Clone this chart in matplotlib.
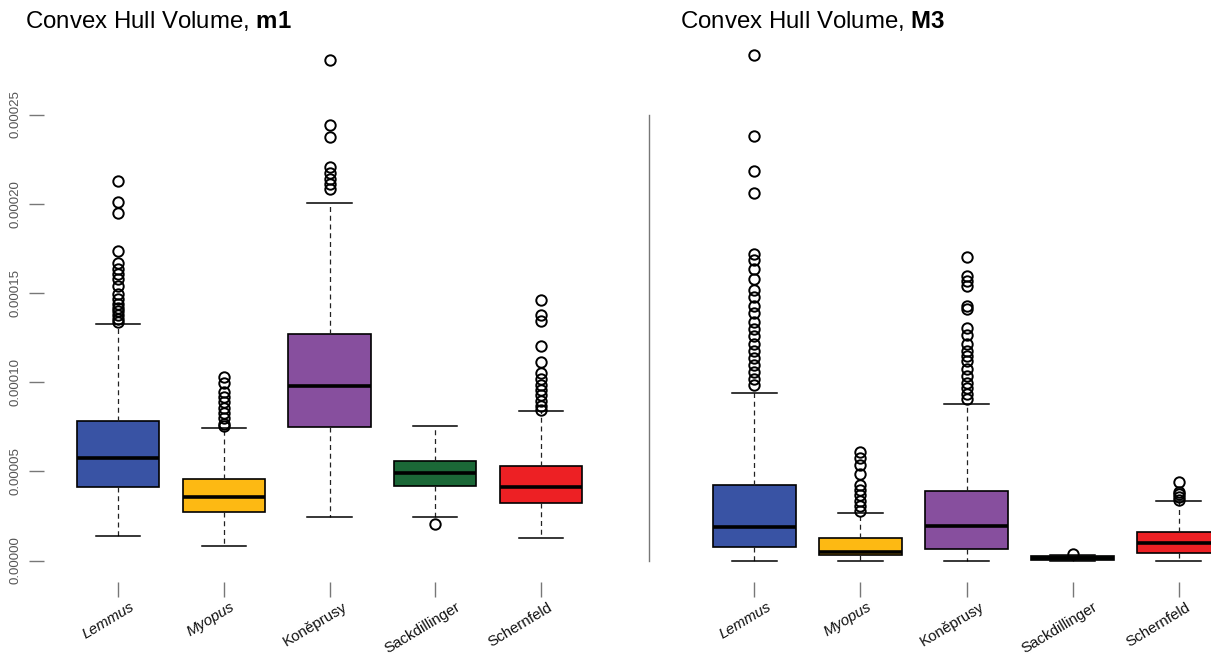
import numpy as np
import matplotlib
matplotlib.use("Agg")
import matplotlib.pyplot as plt
from matplotlib.transforms import ScaledTranslation

plt.rcParams['font.family'] = ['Liberation Sans', 'DejaVu Sans']
plt.rcParams['mathtext.fontset'] = 'custom'
plt.rcParams['mathtext.rm'] = 'Liberation Sans'
plt.rcParams['mathtext.bf'] = 'Liberation Sans:bold'

groups = ['Lemmus', 'Myopus', 'Koněprusy', 'Sackdillinger', 'Schernfeld']
italic_groups = ['Lemmus', 'Myopus']
colors = ['#3953a4', '#fdb913', '#874f9e', '#1b6837', '#ed2024']
yticks = [0.0, 0.00005, 0.0001, 0.00015, 0.0002, 0.00025]

# m1
m1_whislo = [0.0000136, 0.0000080, 0.0000246, 0.0000246, 0.0000126]
m1_q1 = [0.0000410, 0.0000272, 0.0000746, 0.0000420, 0.0000320]
m1_med = [0.0000572, 0.0000354, 0.0000976, 0.0000490, 0.0000412]
m1_q3 = [0.0000780, 0.0000456, 0.0001272, 0.0000556, 0.0000532]
m1_whishi = [0.0001324, 0.0000742, 0.0002006, 0.0000752, 0.0000840]
m1_fliers = [
    [0.0002126, 0.000201, 0.0001946, 0.0001736, 0.0001666, 0.0001636, 0.0001606,
     0.0001576, 0.0001536, 0.0001496, 0.0001466, 0.0001436, 0.0001416, 0.0001396,
     0.0001376, 0.0001356, 0.0001336],
    [0.0001026, 0.0000996, 0.0000946, 0.0000916, 0.0000886, 0.0000856, 0.0000826,
     0.0000796, 0.0000766, 0.0000752],
    [0.0002806, 0.0002442, 0.0002376, 0.0002206, 0.0002172, 0.000214, 0.0002112,
     0.000208],
    [0.0000206],
    [0.000146, 0.0001376, 0.000134, 0.00012, 0.000111, 0.000105, 0.0001016,
     0.0000986, 0.0000956, 0.0000926, 0.0000896, 0.0000866, 0.0000846],
]

# M3
M3_whislo = [0.0, 0.0, 0.0, 0.0, 0.0]
M3_q1 = [0.0000076, 0.0000030, 0.0000066, 0.0000003, 0.0000040]
M3_med = [0.0000186, 0.0000050, 0.0000196, 0.0000012, 0.0000096]
M3_q3 = [0.0000426, 0.0000126, 0.0000392, 0.0000028, 0.0000160]
M3_whishi = [0.0000940, 0.0000266, 0.0000876, 0.0000030, 0.0000336]
M3_fliers = [
    [0.0002836, 0.000238, 0.0002186, 0.0002062, 0.0001716, 0.0001686, 0.0001636,
     0.0001576, 0.0001516, 0.0001476, 0.0001426, 0.0001386, 0.0001336, 0.0001296,
     0.0001256, 0.0001216, 0.0001176, 0.0001136, 0.0001096, 0.0001056, 0.0001016,
     0.0000986],
    [0.0000606, 0.0000576, 0.0000536, 0.0000486, 0.0000426, 0.0000396, 0.0000366,
     0.0000336, 0.0000306, 0.000028],
    [0.00017, 0.0001596, 0.0001566, 0.0001536, 0.0001426, 0.0001412, 0.0001306,
     0.0001266, 0.0001216, 0.0001172, 0.0001146, 0.0001116, 0.0001076, 0.0001036,
     0.0000996, 0.0000966, 0.0000936, 0.0000906],
    [0.0000036],
    [0.000044, 0.0000386, 0.0000372, 0.0000356, 0.000034],
]

W, H = 1211, 658
fig = plt.figure(figsize=(W / 100, H / 100), dpi=100)

top_px, bot_px = 40, 582
zero_px, px_per = 560.5, 89.2 / 0.00005
ylim = ((zero_px - bot_px) / px_per, (zero_px - top_px) / px_per)
# how far right of its tick each rotated label ends, in pixels
label_shift = [12, 6, 13, 20, 7]


def px_axes(x0, x1):
    return fig.add_axes([x0 / W, 1 - bot_px / H, (x1 - x0) / W, (bot_px - top_px) / H])


def draw(ax, whislo, q1, med, q3, whishi, fliers):
    stats = []
    for i in range(len(groups)):
        stats.append(dict(whislo=whislo[i], q1=q1[i], med=med[i], q3=q3[i],
                          whishi=whishi[i], fliers=np.array(fliers[i])))
    bp = ax.bxp(stats, positions=range(1, 6), widths=0.78, capwidths=0.42,
                patch_artist=True, manage_ticks=False,
                boxprops=dict(edgecolor='black', linewidth=1.2),
                medianprops=dict(color='black', linewidth=2.6),
                whiskerprops=dict(color='#222222', linewidth=0.9, linestyle=(0, (4, 3))),
                capprops=dict(color='black', linewidth=1.1),
                flierprops=dict(marker='o', markerfacecolor='none', markeredgecolor='black',
                                markersize=7.5, markeredgewidth=1.4))
    for patch, c in zip(bp['boxes'], colors):
        patch.set_facecolor(c)
    ax.set_xlim(0.3, 5.7)
    ax.set_ylim(*ylim)
    for s in ax.spines.values():
        s.set_visible(False)
    ax.set_xticks(range(1, 6))
    ax.set_xticklabels([])
    ax.tick_params(axis='x', length=11, width=1.0, color='#777777')
    for i, g in enumerate(groups):
        off = ScaledTranslation(label_shift[i] / 100, 0, fig.dpi_scale_trans)
        ax.text(i + 1, -(600 - bot_px) / (bot_px - top_px), g,
                transform=ax.get_xaxis_transform() + off,
                rotation=31, ha='right', va='top', rotation_mode='anchor',
                fontsize=10.9, style='italic' if g in italic_groups else 'normal',
                color='#111111')


ax1 = px_axes(44, 615)
draw(ax1, m1_whislo, m1_q1, m1_med, m1_q3, m1_whishi, m1_fliers)
ax1.set_yticks(yticks)
ax1.set_yticklabels(['%.5f' % v for v in yticks], rotation=90, va='center',
                    fontsize=9.5, color='#555555')
ax1.tick_params(axis='y', length=11, width=1.0, color='#777777', pad=5)

ax2 = px_axes(680, 1253)
draw(ax2, M3_whislo, M3_q1, M3_med, M3_q3, M3_whishi, M3_fliers)
ax2.set_yticks([])
ax2.spines['left'].set_visible(True)
ax2.spines['left'].set_position(('outward', 31 * 0.72))
ax2.spines['left'].set_bounds(0, 0.00025)
ax2.spines['left'].set_color('#777777')
ax2.spines['left'].set_linewidth(1.0)

fig.text(25 / W, 1 - 21 / H, r'Convex Hull Volume, $\mathbf{m1}$', fontsize=17.3,
         ha='left', va='center')
fig.text(680 / W, 1 - 21 / H, r'Convex Hull Volume, $\mathbf{M3}$', fontsize=17.3,
         ha='left', va='center')

fig.savefig('out.png', dpi=100)
